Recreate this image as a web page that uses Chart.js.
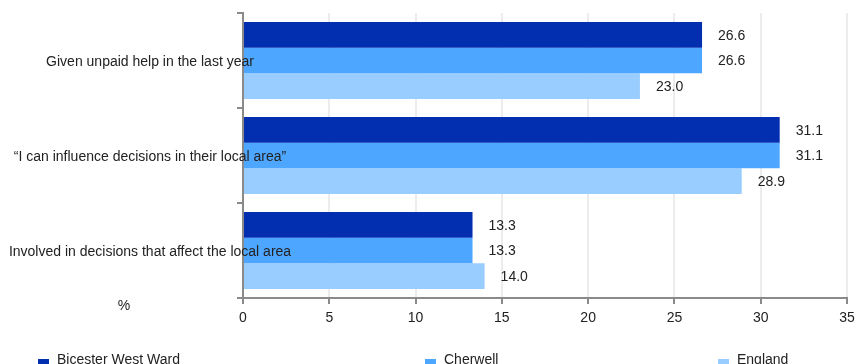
<!DOCTYPE html>
<html>
<head>
<meta charset="utf-8">
<script src="https://cdn.jsdelivr.net/npm/chart.js@4.4.0/dist/chart.umd.min.js"></script>
<style>
  html, body { margin: 0; padding: 0; background: #fff; }
  #wrap { position: relative; width: 857px; height: 364px; overflow: hidden; font-family: "Liberation Sans", Arial, sans-serif; }
  canvas { position: absolute; left: 0; top: 0; }
  .lg { position: absolute; top: 351px; font-size: 14px; color: #222; white-space: nowrap; line-height: 16px; }
  .lg span.sw { display: inline-block; width: 11px; height: 9px; margin-right: 8px; vertical-align: -4px; }
</style>
</head>
<body>
<div id="wrap">
  <canvas id="c" width="857" height="364"></canvas>
  <div id="legend"></div>
</div>
<script>
const categories = [
  "Given unpaid help in the last year",
  "\u201cI can influence decisions in their local area\u201d",
  "Involved in decisions that affect the local area"
];
const seriesNames = ["Bicester West Ward", "Cherwell", "England"];
const bicesterWestWard = [26.6, 31.1, 13.3];
const cherwell = [26.6, 31.1, 13.3];
const england = [23.0, 28.9, 14.0];
const xTicks = [0, 5, 10, 15, 20, 25, 30, 35];
const axisTitle = "%";

const colors = ["#022eb0", "#4da6ff", "#99ccff"];
const legendX = [38, 425, 718];

const seriesValues = [bicesterWestWard, cherwell, england];

const FONT = '"Liberation Sans", Arial, sans-serif';

const overlayPlugin = {
  id: 'overlay',
  afterDatasetsDraw(chart) {
    const ctx = chart.ctx;
    ctx.save();
    ctx.font = '14px ' + FONT;
    ctx.fillStyle = '#222';
    ctx.textBaseline = 'middle';
    chart.data.datasets.forEach((ds, di) => {
      const meta = chart.getDatasetMeta(di);
      meta.data.forEach((bar, i) => {
        ctx.textAlign = 'left';
        ctx.fillText(ds.data[i].toFixed(1), bar.x + 16, bar.y + 1);
      });
    });
    const ys = chart.scales.y;
    ctx.textAlign = 'center';
    categories.forEach((c, i) => {
      ctx.fillText(c, 150, ys.getPixelForValue(i) + 2);
    });
    ctx.fillText(axisTitle, 124, chart.chartArea.bottom + 8);
    ctx.restore();
  }
};

new Chart(document.getElementById('c'), {
  type: 'bar',
  data: {
    labels: categories,
    datasets: seriesNames.map((n, i) => ({
      label: n,
      data: seriesValues[i],
      backgroundColor: colors[i],
      borderWidth: 0,
      barPercentage: 1.0,
      categoryPercentage: 0.81
    }))
  },
  options: {
    indexAxis: 'y',
    responsive: false,
    animation: false,
    layout: { padding: { top: 13, right: 10, bottom: 30, left: 0 } },
    plugins: { legend: { display: false }, tooltip: { enabled: false } },
    scales: {
      x: {
        min: 0, max: 35,
        afterBuildTicks(scale) { scale.ticks = xTicks.map(v => ({ value: v })); },
        afterFit(scale) { scale.height = 36; scale.paddingRight = 0; scale.paddingLeft = 0; },
        grid: { color: '#ececec', lineWidth: 2, tickLength: 6, tickColor: '#8a8a8a', drawTicks: true },
        border: { color: '#8a8a8a', width: 2 },
        ticks: { color: '#222', font: { size: 14, family: FONT }, padding: 6, maxRotation: 0 }
      },
      y: {
        afterFit(scale) { scale.width = 243; },
        grid: { offset: true, drawOnChartArea: false, tickLength: 6, tickColor: '#8a8a8a', lineWidth: 2 },
        border: { color: '#8a8a8a', width: 2 },
        ticks: { display: false }
      }
    }
  },
  plugins: [overlayPlugin]
});

const lg = document.getElementById('legend');
seriesNames.forEach((n, i) => {
  const d = document.createElement('div');
  d.className = 'lg';
  d.style.left = legendX[i] + 'px';
  d.innerHTML = '<span class="sw" style="background:' + colors[i] + '"></span>' + n;
  lg.appendChild(d);
});
</script>
</body>
</html>
